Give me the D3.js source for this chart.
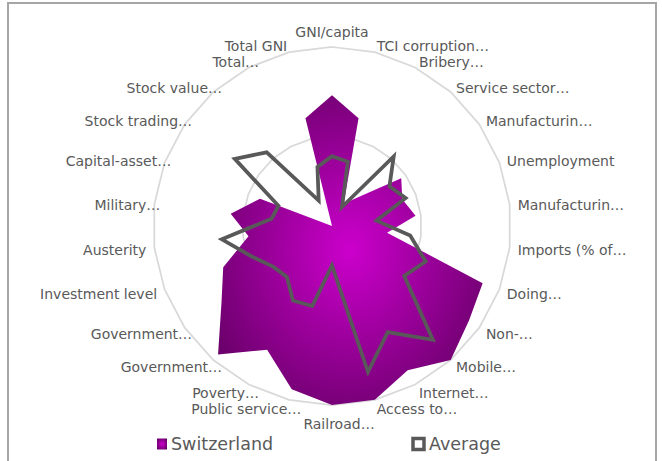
<!DOCTYPE html>
<html><head><meta charset="utf-8">
<script src="https://cdn.jsdelivr.net/npm/d3@7"></script>
<style>html,body{margin:0;padding:0;background:#fff;} svg{display:block;}</style>
</head><body><svg id="chart" width="662" height="461"></svg>
<script>
const categories = ["GNI/capita","TCI corruption…","Bribery…","Service sector…","Manufacturin…","Unemployment","Manufacturin…","Imports (% of…","Doing…","Non-…","Mobile…","Internet…","Access to…","Railroad…","Public service…","Poverty…","Government…","Government…","Investment level","Austerity","Military…","Capital-asset…","Stock trading…","Stock value…","Total…","Total GNI"];
const switzerland = [73,62,14,21,47,42,47,31,90,93,100,91,100,100,94,78,96,75,65,47,57,43,0,0,0,62];
const average = [39,37,12,52,39,44,25,44,56,49,85,67,84,22,46,47,38,40,48,62,34,32,66,55,16,34];
const gridLevels = [50,100];
const seriesNames = ["Switzerland","Average"];

const svg = d3.select("#chart");
const cx = 332, cy = 226, R = 179;
const n = categories.length;
const r = d3.scaleLinear().domain([0,100]).range([0,R]);
const ang = d3.scaleLinear().domain([0,n]).range([0,2*Math.PI]);
const font = "'DejaVu Sans', sans-serif";

// outer chart border
svg.append("rect").attr("x",8).attr("y",3).attr("width",648).attr("height",480)
  .attr("fill","none").attr("stroke","#a6a6a6").attr("stroke-width",2);

const defs = svg.append("defs");
const grad = defs.append("radialGradient").attr("id","swg").attr("cx","50%").attr("cy","50%").attr("r","58%");
grad.append("stop").attr("offset","0%").attr("stop-color","#cc00cc");
grad.append("stop").attr("offset","100%").attr("stop-color","#6c006c");

const g = svg.append("g").attr("transform",`translate(${cx},${cy})`);

const radial = d3.lineRadial().angle((d,i)=>ang(i)).radius(d=>r(d)).curve(d3.curveLinearClosed);

// grid rings
gridLevels.forEach(lv=>{
  g.append("path").attr("d", radial(categories.map(()=>lv)))
    .attr("fill","none").attr("stroke","#d9d9d9").attr("stroke-width",1.75);
});

// Switzerland filled
g.append("path").attr("d", radial(switzerland)).attr("fill","url(#swg)");

// Average line
g.append("path").attr("d", radial(average)).attr("fill","none")
  .attr("stroke","#595959").attr("stroke-width",3.75).attr("stroke-linejoin","miter").attr("stroke-miterlimit",6);

// labels
const LR = R + 8;
categories.forEach((c,i)=>{
  const a = ang(i);
  const s = Math.sin(a), co = Math.cos(a);
  let x = LR*s, y = -LR*co;
  let anchor = "middle";
  if (s > 0.05) anchor = "start"; else if (s < -0.05) anchor = "end";
  const trunc = c.endsWith("…");
  if (trunc) { if (anchor==="end") x += 14; else if (anchor==="middle") x += 7; }
  if (Math.abs(s) < 0.05) y += -co*9;
  y += 1.5;
  g.append("text").attr("x",x).attr("y",y).attr("text-anchor",anchor)
    .attr("dominant-baseline","central")
    .attr("font-family",font).attr("font-size",14).attr("fill","#595959").text(c);
});

// legend
const lg = svg.append("g");
lg.append("rect").attr("x",157).attr("y",438.5).attr("width",10).attr("height",11).attr("fill","url(#swg)");
lg.append("text").attr("x",171).attr("y",450).attr("font-family",font).attr("font-size",17.5)
  .attr("fill","#595959").text(seriesNames[0]);
lg.append("rect").attr("x",413).attr("y",438.5).attr("width",11).attr("height",11)
  .attr("fill","#fff").attr("stroke","#595959").attr("stroke-width",3.5);
lg.append("text").attr("x",429).attr("y",450).attr("font-family",font).attr("font-size",17.5)
  .attr("fill","#595959").text(seriesNames[1]);
</script></body></html>
